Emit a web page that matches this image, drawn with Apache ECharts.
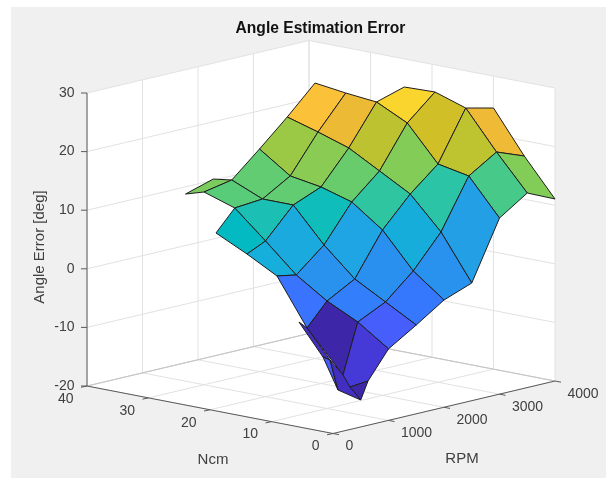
<!DOCTYPE html>
<html>
<head>
<meta charset="utf-8">
<style>html,body{margin:0;padding:0;background:#fff}#c{width:606px;height:479px}</style>
<script src="https://cdn.jsdelivr.net/npm/echarts@6/dist/echarts.min.js"></script>
</head>
<body>
<div id="c"></div>
<script>
var chartTitle = 'Angle Estimation Error';
var ncmLabel = 'Ncm', rpmLabel = 'RPM', errLabel = 'Angle Error [deg]';
var ncmTicks = [0, 10, 20, 30, 40];
var rpmTicks = [0, 1000, 2000, 3000, 4000];
var errTicks = [-20, -10, 0, 10, 20, 30];

// Surface: rows are torque (Ncm), columns run low to high RPM
var ncmRows = [0, 5, 10, 15, 20, 25, 30, 33];
var rpmCols = [null, 1000, 1500, 2000, 2500, 3000, 3500, 4000];
var firstColRpm = [631, 734, 640, 653, 667, 662, null, null];
var errRow0 = [-12.46, -7.8, -4.84, -1.7, 0.08, 10.05, 13.2, 11.06];
var errRow5 = [-12.67, -4.23, -1.93, 2.24, 7.77, 16.21, 19.18, 17.38];
var errRow10 = [-5.45, -1.66, 0.98, 8.22, 13.24, 17.24, 25.68, 24.56];
var errRow15 = [2.38, 1.77, 5.77, 11.99, 16.16, 23.23, 27.4, null];
var errRow20 = [5.08, 6.56, 11.58, 13.53, 19.07, 25.8, 27.24, null];
var errRow25 = [7.67, 11.18, 11.59, 14.4, 20.78, 26.32, null, null];
var errRow30 = [null, 12.89, 13.82, 17.99, 22.33, 27.01, null, null];
var errRow33 = [null, 11.94, 13.38, null, null, null, null, null];
var errGrid = [errRow0, errRow5, errRow10, errRow15, errRow20, errRow25, errRow30, errRow33];

// Folded tip of the surface near the lowest RPM: [Ncm, RPM, error]
var tipA0 = [0, 500, -15.4];
var tipB0 = [0, 631, -12.46];
var tipK0 = [0, 1000, -7.8];
var tipK1 = [5, 1000, -4.23];
var tipB1 = [5, 734, -12.67];
var tipF = [5, 860, -15.0];
var tipE = [5, 644, -15.03];
var tipA1 = [5, 500, -9.59];
var tipC = [5, 374, -8.8];
var tipA2 = [10, 495, -4.11];
var tipB2 = [10, 640, -5.45];
var tipPatches = [
  { tone: -14.0, pts: [tipA2, tipB2, tipA1, tipC] },
  { tone: -8.6, pts: [tipC, tipA1, tipE] },
  { tone: -14.0, pts: [tipA1, tipB1, tipA0, tipE] },
  { tone: -12.46, pts: [tipK1, tipK0, tipB0, tipF, tipB1] },
  { tone: -15.4, pts: [tipF, tipB0, tipA0] }
];
var darkestCellTone = -15.4;
var toneMin = -15.4, toneMax = 27.4;
var parula = ['#3E26A8','#4432CB','#4741E5','#4852F4','#4563FD','#3875FE','#2E87F7','#2796EB','#20A5E3','#12B1D6','#02BAC3','#24C1AE','#37C897','#57CC7A','#81CC59','#ABC739','#D1BF27','#F0BA36','#FEC338','#FAD62D','#F5E924','#F9FB15'];

// Orthographic view of the 3-D box, in page units
var view = { ox: 333, oy: 433.5, nx: -6.15, ny: -1.1875, rx: 0.0555, ry: -0.013125, zy: -5.86, zBase: -20 };
function project(n, r, z) {
  return [view.ox + view.nx * n + view.rx * r, view.oy + view.ny * n + view.ry * r + view.zy * (z - view.zBase)];
}
function rpmAt(m, k) { return k === 0 ? firstColRpm[m] : rpmCols[k]; }
function vert(m, k) { return [ncmRows[m], rpmAt(m, k), errGrid[m][k]]; }

// Cells back to front so that nearer cells cover farther ones
var polys = [];
for (var m = ncmRows.length - 2; m >= 0; m--) {
  for (var k = rpmCols.length - 2; k >= 0; k--) {
    if (errGrid[m][k] == null || errGrid[m][k + 1] == null || errGrid[m + 1][k] == null || errGrid[m + 1][k + 1] == null) continue;
    if (m === 0 && k === 0) continue; // drawn with the tip
    polys.push({
      tone: (m === 1 && k === 0) ? darkestCellTone : errGrid[m][k],
      pts: [vert(m, k), vert(m, k + 1), vert(m + 1, k + 1), vert(m + 1, k)]
    });
  }
}
polys = polys.concat(tipPatches);
var surfaceData = polys.map(function (p, i) { return [p.tone, i]; });

var nMax = ncmTicks[ncmTicks.length - 1], rMax = rpmTicks[rpmTicks.length - 1];
var zMin = errTicks[0], zMax = errTicks[errTicks.length - 1];
var gridColor = '#E2E2E2', axisColor = '#5A5A5A', textColor = '#404040';
var tickFont = '14px "Liberation Sans", Arial, sans-serif';
var titleFont = '15px "Liberation Sans", Arial, sans-serif';

function renderFrame(params, api) {
  var P = function (n, r, z) { return api.coord(project(n, r, z)); };
  var out = [];
  function poly(pts, fill) { out.push({ type: 'polygon', shape: { points: pts }, style: { fill: fill, stroke: 'none' } }); }
  function line(a, b, color, w) { out.push({ type: 'line', shape: { x1: a[0], y1: a[1], x2: b[0], y2: b[1] }, style: { stroke: color, lineWidth: w || 1 } }); }
  function text(s, p, align, font, fill, rot) {
    out.push({ type: 'text', x: p[0], y: p[1], rotation: rot || 0, style: { text: s, font: font, fill: fill || textColor, align: align, verticalAlign: 'middle' } });
  }
  poly([P(nMax, 0, zMin), P(nMax, 0, zMax), P(nMax, rMax, zMax), P(0, rMax, zMax), P(0, rMax, zMin), P(0, 0, zMin)], '#fff');
  // grid lines
  rpmTicks.forEach(function (r) {
    line(P(0, r, zMin), P(nMax, r, zMin), gridColor);
    line(P(nMax, r, zMin), P(nMax, r, zMax), gridColor);
  });
  ncmTicks.forEach(function (n) {
    line(P(n, 0, zMin), P(n, rMax, zMin), gridColor);
    line(P(n, rMax, zMin), P(n, rMax, zMax), gridColor);
  });
  errTicks.forEach(function (z) {
    line(P(nMax, 0, z), P(nMax, rMax, z), gridColor);
    line(P(nMax, rMax, z), P(0, rMax, z), gridColor);
  });
  line(P(nMax, rMax, zMin), P(0, rMax, zMin), '#C4C4C4');
  line(P(nMax, rMax, zMin), P(nMax, 0, zMin), '#C4C4C4');
  // axes
  line(P(nMax, 0, zMin), P(nMax, 0, zMax), axisColor);
  line(P(nMax, 0, zMin), P(0, 0, zMin), axisColor);
  line(P(0, 0, zMin), P(0, rMax, zMin), axisColor);
  errTicks.forEach(function (z) {
    var p = P(nMax, 0, z);
    line([p[0] - 6, p[1]], p, axisColor);
    text(String(z), [p[0] - 12.5, p[1]], 'right', tickFont);
  });
  ncmTicks.forEach(function (n) {
    var p = P(n, 0, zMin);
    line(p, [p[0] - 6, p[1] + 1.3], axisColor);
    text(String(n), [p[0] - 13.5, p[1] + 13], 'right', tickFont);
  });
  rpmTicks.forEach(function (r) {
    var p = P(0, r, zMin);
    line(p, [p[0] + 6, p[1] + 1.2], axisColor);
    text(String(r), [p[0] + 12.5, p[1] + 12.8], 'left', tickFont);
  });
  var a = api.coord([40, 247]), b = api.coord([213, 460]), c = api.coord([462, 459]);
  text(errLabel, a, 'center', titleFont, textColor, Math.PI / 2);
  text(ncmLabel, b, 'center', titleFont);
  text(rpmLabel, c, 'center', titleFont);
  return { type: 'group', children: out };
}

function renderCell(params, api) {
  var p = polys[params.dataIndex];
  var pts = p.pts.map(function (v) { return api.coord(project(v[0], v[1], v[2])); });
  return {
    type: 'polygon',
    shape: { points: pts },
    style: { fill: api.visual('color'), stroke: '#1E1E1E', lineWidth: 1, lineJoin: 'round' }
  };
}

var chart = echarts.init(document.getElementById('c'), null, { renderer: 'canvas', width: 606, height: 479 });
chart.setOption({
  animation: false,
  backgroundColor: '#fff',
  title: {
    text: chartTitle, left: 315.5, top: 16, textAlign: 'center',
    textStyle: { fontFamily: '"Liberation Sans", Arial, sans-serif', fontSize: 15.6, fontWeight: 'bold', color: '#111' }
  },
  graphic: [{ type: 'rect', z: -10, shape: { x: 11, y: 7, width: 595, height: 471 }, style: { fill: '#F0F0F0' }, silent: true }],
  grid: { left: 0, right: 0, top: 0, bottom: 0 },
  xAxis: { type: 'value', min: 0, max: 606, show: false },
  yAxis: { type: 'value', min: 0, max: 479, inverse: true, show: false },
  visualMap: { show: false, seriesIndex: 1, dimension: 0, min: toneMin, max: toneMax, inRange: { color: parula } },
  series: [
    { type: 'custom', z: 1, silent: true, clip: false, data: [[0, 0]], renderItem: renderFrame },
    { type: 'custom', z: 2, silent: true, clip: false, data: surfaceData, encode: { x: 1, y: 0 }, renderItem: renderCell }
  ]
});
</script>
</body>
</html>
